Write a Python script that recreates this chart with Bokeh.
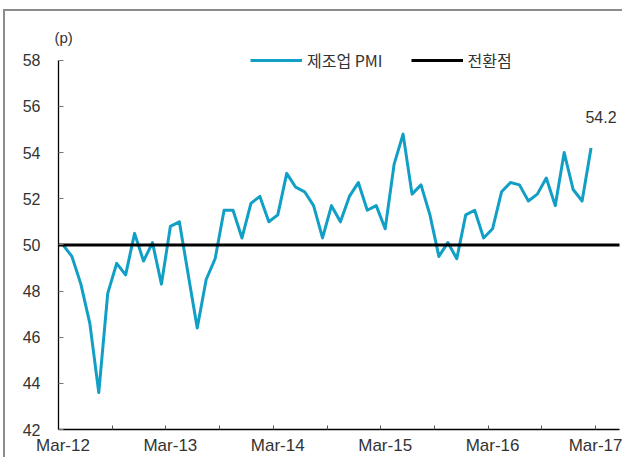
from bokeh.plotting import figure
from bokeh.models import FixedTicker, Legend, LegendItem, Range1d
from bokeh.embed import file_html
from bokeh.resources import INLINE
from bokeh.core.properties import value

# ---- data (monthly, Mar-12 .. Feb-17) ----
pmi = [50.0, 49.5, 48.3, 46.6, 43.6, 47.9, 49.2, 48.7, 50.5, 49.3, 50.1, 48.3,
       50.8, 51.0, 48.7, 46.4, 48.5, 49.4, 51.5, 51.5, 50.3, 51.8, 52.1, 51.0,
       51.3, 53.1, 52.5, 52.3, 51.7, 50.3, 51.7, 51.0, 52.1, 52.7, 51.5, 51.7,
       50.7, 53.5, 54.8, 52.2, 52.6, 51.3, 49.5, 50.1, 49.4, 51.3, 51.5, 50.3,
       50.7, 52.3, 52.7, 52.6, 51.9, 52.2, 52.9, 51.7, 54.0, 52.4, 51.9, 54.2]
turning_point = 50
x_tick_labels = ["Mar-12", "Mar-13", "Mar-14", "Mar-15", "Mar-16", "Mar-17"]
y_ticks = [42, 44, 46, 48, 50, 52, 54, 56, 58]
series_names = ["제조업 PMI", "전환점"]
unit_text = "(p)"

months_per_label = 12
x = list(range(len(pmi)))
label_pos = [i * months_per_label for i in range(len(x_tick_labels))]
tick_pos = [i * 6 - 0.5 for i in range(2 * len(x_tick_labels) + 1)]
x_axis_span = (tick_pos[0], tick_pos[-1] + 1)   # axis from first to last category edge

TEXT = "#333333"
CYAN = "#129fc6"

p = figure(width=619, height=448, output_backend="svg", toolbar_location=None,
           x_range=Range1d(-0.5, 62.18), y_range=Range1d(42, 58.51),
           min_border_left=53, min_border_right=5, min_border_top=37, min_border_bottom=30,
           margin=(9, 0, 0, 3),
           styles={"border-top": "2px solid #8c8c8c", "border-left": "2px solid #8c8c8c"})
p.outline_line_color = None
p.xgrid.visible = False
p.ygrid.visible = False
p.background_fill_color = "white"
p.border_fill_color = "white"

# unit label as title
p.title.text = unit_text
p.title.align = "left"
p.title.offset = -4
p.title.standoff = 5
p.title.text_font = "Liberation Sans"
p.title.text_font_size = "15px"
p.title.text_font_style = "normal"
p.title.text_color = TEXT

r_pmi = p.line(x, pmi, line_color=CYAN, line_width=3, line_join="round")
r_tp = p.line(list(x_axis_span), [turning_point] * 2, line_color="black", line_width=3)

# last value annotation
p.text(x=[x[-1]], y=[pmi[-1]], text=[f"{pmi[-1]:.1f}"], x_offset=10, y_offset=-31,
       text_align="center", text_baseline="middle", text_font=value("Liberation Sans"),
       text_font_size="16px", text_color=TEXT)

# axes
xa = p.xaxis[0]
xa.ticker = FixedTicker(ticks=label_pos, minor_ticks=tick_pos)
xa.bounds = x_axis_span
xa.major_label_overrides = {pos: lab for pos, lab in zip(label_pos, x_tick_labels)}
xa.major_tick_in = 0
xa.major_tick_out = 0
xa.minor_tick_in = 4
xa.minor_tick_out = 0
xa.minor_tick_line_color = "#555555"
xa.axis_line_color = "black"
xa.axis_line_width = 1.3
xa.major_label_standoff = 6
xa.major_label_text_font = "Liberation Sans"
xa.major_label_text_font_size = "17px"
xa.major_label_text_color = TEXT

ya = p.yaxis[0]
ya.ticker = FixedTicker(ticks=y_ticks)
ya.bounds = (y_ticks[0], y_ticks[-1])
ya.minor_tick_line_color = None
ya.major_tick_in = 5
ya.major_tick_out = 0
ya.major_tick_line_color = "#777777"
ya.axis_line_color = "black"
ya.axis_line_width = 1.3
ya.major_label_standoff = 18
ya.major_label_text_font = "Liberation Sans"
ya.major_label_text_font_size = "16px"
ya.major_label_text_color = TEXT

legend = Legend(items=[LegendItem(label=series_names[0], renderers=[r_pmi]),
                       LegendItem(label=series_names[1], renderers=[r_tp])],
                location=(192, 357), orientation="horizontal",
                glyph_width=52, glyph_height=20, label_height=20, label_standoff=5,
                spacing=28, padding=0, margin=0,
                label_text_font="Noto Sans CJK KR", label_text_font_size="16px",
                label_text_color=TEXT, border_line_color=None,
                background_fill_alpha=0)
p.add_layout(legend)

open("out.html", "w").write(file_html(p, INLINE))
